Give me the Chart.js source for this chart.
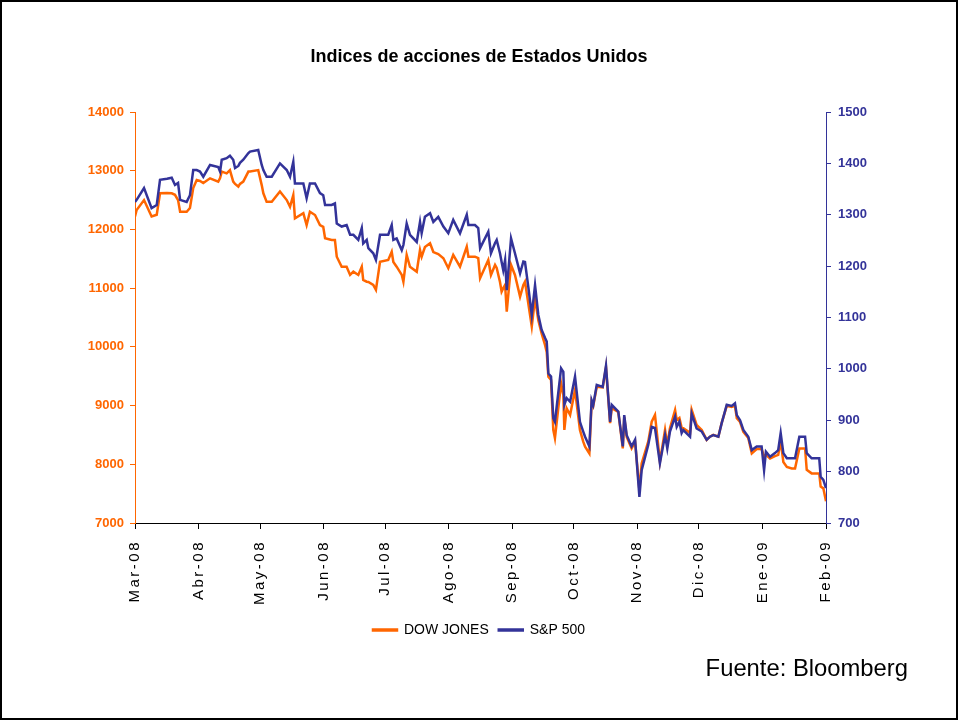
<!DOCTYPE html>
<html>
<head>
<meta charset="utf-8">
<title>Indices de acciones de Estados Unidos</title>
<script src="https://cdn.jsdelivr.net/npm/chart.js@4.4.0/dist/chart.umd.min.js"></script>
<style>
  html, body { margin: 0; padding: 0; background: #fff; }
  #wrap { position: relative; width: 958px; height: 720px; }
  #indexChart { position: absolute; left: 0; top: 0; }
  #frame { position: absolute; left: 0; top: 0; width: 958px; height: 720px; box-sizing: border-box; border: 2px solid #000; pointer-events: none; }
  #fuente { position: absolute; right: 50px; top: 656px; font: 23.8px 'Liberation Sans', Arial, sans-serif; line-height: 1; color: #000; }
</style>
</head>
<body>
<div id="wrap">
  <canvas id="indexChart" width="958" height="720"></canvas>
  <div id="fuente">Fuente: Bloomberg</div>
  <div id="frame"></div>
</div>
<script>
// days counted from 1-Mar-2008
const days = [
  0, 0.8, 4.4, 8.1, 10.6, 12.2, 15.6, 17.9, 19.5, 21.0,
  22.0, 25.2, 26.8, 28.4, 30.1, 31.7, 33.3, 36.6, 40.6, 41.5,
  42.3, 44.7, 46.3, 47.9, 48.8, 50.4, 51.2, 52.8, 55.3, 56.1,
  60.1, 61.8, 62.6, 64.2, 66.7, 70.7, 74.0, 75.6, 77.2, 78.0,
  82.1, 83.7, 85.3, 87.8, 90.2, 91.8, 92.7, 95.9, 97.5, 98.4,
  100.8, 103.2, 104.9, 106.5, 108.9, 110.6, 111.3, 113.0, 113.8, 116.2,
  117.5, 119.5, 123.5, 125.2, 126.0, 127.6, 130.1, 130.9, 132.5, 134.1,
  137.4, 139.0, 139.8, 141.4, 143.9, 145.5, 147.9, 150.4, 152.8, 155.2,
  158.5, 161.8, 162.6, 165.8, 167.4, 168.3, 172.3, 173.6, 175.6, 176.4,
  178.0, 178.8, 179.6, 180.5, 181.3, 183.4, 185.3, 187.8, 189.4, 190.2,
  191.8, 193.5, 195.1, 196.7, 198.3, 200.0, 200.8, 201.6, 202.9, 204.0,
  204.8, 207.8, 208.9, 209.4, 210.5, 212.2, 214.6, 217.0, 218.6, 219.5,
  221.6, 222.7, 223.5, 225.2, 228.1, 229.7, 231.7, 232.5, 235.7, 237.9,
  238.6, 239.8, 242.2, 243.9, 246.0, 247.1, 250.3, 252.0, 253.6, 256.0,
  258.5, 259.6, 260.9, 263.4, 264.2, 265.5, 266.6, 267.4, 270.7, 271.5,
  273.9, 276.4, 278.8, 280.4, 282.0, 284.5, 286.1, 288.6, 291.0, 292.6,
  293.5, 295.1, 296.7, 299.1, 300.8, 303.2, 305.6, 306.8, 307.7, 309.7,
  312.1, 313.7, 314.9, 316.2, 317.9, 320.3, 321.9, 324.0, 326.8, 327.6,
  330.0, 333.7, 334.4, 335.7, 337
];

const dowJones = [
  12220, 12330, 12500, 12220, 12250, 12615, 12620, 12615, 12590, 12500,
  12300, 12300, 12365, 12705, 12840, 12825, 12790, 12870, 12815, 12875,
  12985, 12955, 13010, 12815, 12775, 12730, 12775, 12815, 12985, 12985,
  13010, 12755, 12615, 12470, 12470, 12645, 12500, 12385, 12585, 12190,
  12275, 12075, 12300, 12245, 12075, 12045, 11850, 11820, 11820, 11535,
  11365, 11365, 11225, 11280, 11225, 11365, 11140, 11110, 11105, 11055,
  10970, 11450, 11480, 11620, 11445, 11365, 11225, 11110, 11565, 11365,
  11280, 11650, 11535, 11700, 11765, 11615, 11580, 11510, 11340, 11565,
  11365, 11705, 11535, 11535, 11510, 11170, 11480, 11225, 11395, 11345,
  11105, 10940, 11000, 11055, 10600, 11395, 11225, 10855, 11055, 11110,
  10740, 10345, 10825, 10455, 10230, 10030, 9910, 9490, 9435, 8585,
  8445, 9380, 9180, 8585, 8955, 8840, 9265, 8585, 8385, 8300,
  8185, 9065, 8995, 9320, 9310, 9650, 8700, 8955, 8890, 8270,
  8805, 8465, 8270, 8380, 7560, 8015, 8385, 8725, 8840, 8045,
  8585, 8330, 8615, 8925, 8755, 8790, 8620, 8615, 8535, 8925,
  8670, 8585, 8415, 8470, 8500, 8470, 8700, 8995, 8975, 8995,
  8785, 8720, 8550, 8450, 8185, 8260, 8260, 8130, 8160, 8100,
  8140, 8160, 8400, 8040, 7955, 7930, 7930, 8270, 8270, 7905,
  7845, 7845, 7620, 7590, 7370
];

const sp500 = [
  1325, 1329, 1352, 1313, 1319, 1368, 1370, 1372, 1358, 1362,
  1329, 1325, 1338, 1387, 1387, 1384, 1374, 1397, 1393, 1384,
  1407, 1410, 1415, 1407, 1391, 1395, 1401, 1407, 1420, 1423,
  1426, 1397, 1387, 1374, 1374, 1400, 1387, 1374, 1403, 1361,
  1361, 1332, 1361, 1361, 1342, 1338, 1319, 1319, 1322, 1283,
  1277, 1280, 1261, 1261, 1251, 1274, 1244, 1251, 1235, 1225,
  1212, 1261, 1261, 1280, 1251, 1254, 1231, 1241, 1283, 1261,
  1247, 1286, 1264, 1296, 1303, 1286, 1296, 1277, 1264, 1290,
  1264, 1300, 1280, 1280, 1274, 1235, 1267, 1225, 1245, 1251,
  1225, 1208, 1192, 1212, 1153, 1254, 1225, 1186, 1209, 1208,
  1160, 1105, 1163, 1105, 1076, 1060, 1053, 991, 985, 904,
  897, 1001, 994, 930, 943, 936, 985, 897, 878, 868,
  849, 939, 930, 969, 965, 1006, 897, 930, 917, 849,
  910, 871, 849, 862, 751, 803, 852, 887, 885, 816,
  871, 845, 878, 907, 887, 897, 875, 881, 868, 913,
  884, 878, 862, 868, 871, 868, 894, 930, 928, 933,
  910, 900, 881, 868, 842, 849, 849, 803, 839, 829,
  836, 842, 875, 836, 826, 826, 826, 868, 868, 836,
  826, 826, 790, 784, 768
];

// month starts (days from 1-Mar-2008) and their labels
const monthDays = [0, 31, 61, 92, 122, 153, 184, 214, 245, 275, 306, 337];
const monthLabels = ['Mar-08', 'Abr-08', 'May-08', 'Jun-08', 'Jul-08', 'Ago-08',
                     'Sep-08', 'Oct-08', 'Nov-08', 'Dic-08', 'Ene-09', 'Feb-09'];

const ORANGE = '#FF6600';
const NAVY = '#333399';
const FONT = "'Liberation Sans', Arial, sans-serif";

// Excel-style spaced month labels
const spacedLabels = {
    id: 'spacedLabels',
    beforeDraw(chart) {
        const sc = chart.scales.x;
        if (sc._spaced) return;
        const orig = sc.drawLabels.bind(sc);
        sc.drawLabels = function(area) {
            const c = chart.ctx;
            c.save();
            c.letterSpacing = '2.5px';
            orig(area);
            c.restore();
        };
        sc._spaced = true;
    }
};

document.addEventListener('DOMContentLoaded', function() {
    const ctx = document.getElementById('indexChart');

    new Chart(ctx, {
        type: 'line',
        data: {
            datasets: [
                {
                    label: 'DOW JONES',
                    data: days.map((d, i) => ({ x: d, y: dowJones[i] })),
                    yAxisID: 'y',
                    borderColor: ORANGE,
                    backgroundColor: ORANGE,
                    borderWidth: 2.5,
                    pointRadius: 0,
                    tension: 0,
                    order: 2
                },
                {
                    label: 'S&P 500',
                    data: days.map((d, i) => ({ x: d, y: sp500[i] })),
                    yAxisID: 'y1',
                    borderColor: NAVY,
                    backgroundColor: NAVY,
                    borderWidth: 2.5,
                    pointRadius: 0,
                    tension: 0,
                    order: 1
                }
            ]
        },
        options: {
            responsive: false,
            animation: false,
            devicePixelRatio: 1,
            layout: { padding: { left: 0, right: 0, top: 0, bottom: 73 } },
            scales: {
                x: {
                    type: 'linear',
                    min: 0,
                    max: 337,
                    afterBuildTicks: (scale) => {
                        scale.ticks = monthDays.map(v => ({ value: v }));
                    },
                    afterFit: (scale) => { scale.height = 90; },
                    ticks: {
                        autoSkip: false,
                        minRotation: 90,
                        maxRotation: 90,
                        padding: 11,
                        color: '#000',
                        font: { family: FONT, size: 15 },
                        callback: (value, index) => monthLabels[index]
                    },
                    grid: { drawOnChartArea: false, color: '#000', tickLength: 6 },
                    border: { color: '#000', width: 1 }
                },
                y: {
                    position: 'left',
                    min: 7000,
                    max: 14000,
                    afterFit: (scale) => { scale.width = 135; },
                    ticks: {
                        stepSize: 1000,
                        padding: 6,
                        color: ORANGE,
                        font: { family: FONT, size: 13, weight: 'bold' },
                        callback: (value) => String(value)
                    },
                    grid: { drawOnChartArea: false, color: ORANGE, tickLength: 5 },
                    border: { color: ORANGE, width: 1 }
                },
                y1: {
                    position: 'right',
                    min: 700,
                    max: 1500,
                    afterFit: (scale) => { scale.width = 132; },
                    ticks: {
                        stepSize: 100,
                        padding: 7,
                        color: NAVY,
                        font: { family: FONT, size: 13, weight: 'bold' },
                        callback: (value) => String(value)
                    },
                    grid: { drawOnChartArea: false, color: NAVY, tickLength: 5 },
                    border: { color: NAVY, width: 1 }
                }
            },
            plugins: {
                title: {
                    display: true,
                    text: 'Indices de acciones de Estados Unidos',
                    color: '#000',
                    font: { family: FONT, size: 18, weight: 'bold' },
                    padding: { top: 46, bottom: 44.4 }
                },
                legend: {
                    position: 'bottom',
                    labels: {
                        boxWidth: 24,
                        boxHeight: 1,
                        padding: 10,
                        color: '#000',
                        font: { family: FONT, size: 14 },
                        sort: (a, b) => a.datasetIndex - b.datasetIndex
                    }
                },
                tooltip: { enabled: false }
            }
        },
        plugins: [spacedLabels]
    });
});
</script>
</body>
</html>
